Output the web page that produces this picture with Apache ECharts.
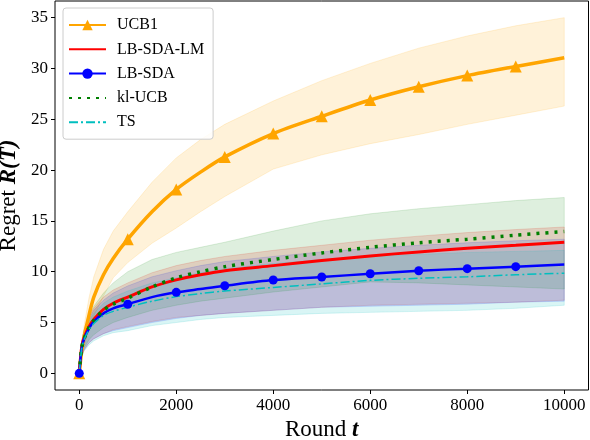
<!DOCTYPE html>
<html>
<head>
<meta charset="utf-8">
<script src="https://cdn.jsdelivr.net/npm/echarts@6/dist/echarts.min.js"></script>
<style>
    html, body {margin: 0; padding: 0; background: #fff;}
    #result_display {width: 590px; height: 440px;}
</style>
</head>
<body>
<div id="result_display"></div>
<script>
// ///////////////////////////////////////////
// data
var T = [0, 50, 100, 200, 300, 500, 700, 1000, 1500, 2000, 2500, 3000, 4000, 5000, 6000, 7000, 8000, 9000, 10000];

var ucb = [0, 2.2, 3.6, 5.7, 7.5, 9.7, 11.3, 13.2, 15.9, 18.1, 19.8, 21.3, 23.6, 25.3, 26.9, 28.2, 29.3, 30.2, 31.05];
var ucbHi = [0, 3.0, 4.7, 7.4, 9.5, 12.2, 14.0, 15.9, 18.8, 21.2, 23.0, 24.5, 26.8, 28.8, 30.5, 32.0, 33.2, 34.2, 35.0];
var ucbLo = [0, 1.6, 2.7, 4.3, 5.6, 7.6, 9.4, 10.9, 12.8, 14.3, 15.9, 17.4, 20.1, 21.5, 22.6, 23.5, 24.5, 25.4, 26.3];

var sdaLm = [0, 2.6, 3.5, 4.6, 5.3, 6.3, 6.9, 7.5, 8.5, 9.2, 9.7, 10.1, 10.6, 11.1, 11.55, 11.95, 12.3, 12.6, 12.9];
var sdaLmHi = [0, 3.2, 4.3, 5.6, 6.4, 7.5, 8.2, 8.9, 9.9, 10.6, 11.1, 11.5, 12.1, 12.6, 13.1, 13.5, 13.85, 14.15, 14.4];
var sdaLmLo = [0, 1.7, 2.3, 3.0, 3.4, 3.9, 4.3, 4.6, 5.1, 5.5, 5.7, 5.9, 6.2, 6.5, 6.7, 6.8, 6.9, 7.0, 7.2];

var sda = [0, 2.5, 3.4, 4.4, 5.1, 5.9, 6.4, 6.8, 7.5, 7.97, 8.3, 8.62, 9.18, 9.48, 9.8, 10.1, 10.3, 10.5, 10.7];
var sdaHi = [0, 3.1, 4.2, 5.4, 6.2, 7.2, 7.9, 8.6, 9.5, 10.1, 10.6, 11.0, 11.5, 11.95, 12.3, 12.6, 12.85, 13.05, 13.2];
var sdaLo = [0, 1.7, 2.3, 3.0, 3.4, 3.9, 4.2, 4.5, 5.0, 5.4, 5.7, 5.9, 6.2, 6.5, 6.6, 6.7, 6.8, 7.0, 7.1];

var klUcb = [0, 2.5, 3.4, 4.5, 5.2, 6.2, 6.8, 7.4, 8.5, 9.4, 10.0, 10.5, 11.2, 11.85, 12.4, 12.85, 13.2, 13.6, 13.95];
var klUcbHi = [0, 3.0, 4.2, 5.6, 6.6, 7.9, 8.9, 10.0, 11.2, 11.9, 12.4, 12.9, 14.0, 15.0, 15.7, 16.2, 16.6, 17.0, 17.3];
var klUcbLo = [0, 1.8, 2.5, 3.3, 3.8, 4.5, 5.0, 5.5, 6.2, 6.7, 7.1, 7.4, 8.0, 8.5, 9.0, 8.9, 8.7, 8.5, 8.3];

var ts = [0, 2.4, 3.3, 4.3, 4.9, 5.7, 6.1, 6.5, 7.1, 7.55, 7.85, 8.1, 8.45, 8.8, 9.15, 9.35, 9.5, 9.7, 9.85];
var tsHi = [0, 2.9, 4.0, 5.2, 5.9, 6.9, 7.5, 8.1, 8.9, 9.4, 9.9, 10.3, 10.8, 11.2, 11.5, 11.7, 11.9, 12.0, 12.1];
var tsLo = [0, 1.6, 2.2, 2.8, 3.2, 3.7, 4.0, 4.2, 4.7, 5.0, 5.3, 5.5, 5.7, 5.9, 6.0, 6.1, 6.2, 6.4, 6.7];

var xTicks = [0, 2000, 4000, 6000, 8000, 10000];
var yTicks = [0, 5, 10, 15, 20, 25, 30, 35];

var FONT = '"Liberation Serif", "DejaVu Serif", serif';

// ///////////////////////////////////////////
// helpers
var pairs = function (ys) {
    return T.map(function (t, i) {
        return [t, ys[i]];
    });
};

// markers every 1000 rounds, none on the last point
var markEvery = function (size) {
    return function (val) {
        return (val[0] % 1000 === 0 && val[0] < 10000) ? size : 0;
    };
};

// shaded band between lo and hi, one polygon drawn through the axes
var band = function (name, lo, hi, color) {
    return {
        name: name,
        type: 'custom',
        silent: true,
        z: 1,
        data: T.map(function (t, i) {
            return [t, lo[i], hi[i]];
        }),
        renderItem: function (params, api) {
            if (params.dataIndex !== 0) {
                return null;
            }
            var pts = [];
            for (var i = 0; i < T.length; i++) {
                pts.push(api.coord([T[i], hi[i]]));
            }
            for (var j = T.length - 1; j >= 0; j--) {
                pts.push(api.coord([T[j], lo[j]]));
            }
            return {
                type: 'polygon',
                shape: {points: pts},
                style: {fill: color, stroke: color, lineWidth: 1}
            };
        }
    };
};

var line = function (name, ys, color, width, dash, symbol, size) {
    return {
        name: name,
        type: 'line',
        z: 3,
        data: pairs(ys),
        smooth: 0.3,
        symbol: symbol || 'none',
        symbolSize: symbol ? markEvery(size) : 0,
        showAllSymbol: true,
        color: color,
        itemStyle: {color: color},
        lineStyle: {color: color, width: width, type: dash || 'solid'}
    };
};

var plain = function (v) {
    return String(v);
};

// ///////////////////////////////////////////
// echarts
var chart = echarts.init(document.getElementById('result_display'));

chart.setOption({
    animation: false,
    backgroundColor: '#fff',
    grid: {
        left: 55, right: 1.5, top: 1, bottom: 50,
        outerBoundsMode: 'none',
        containLabel: false,
        show: true, borderColor: '#000', borderWidth: 1
    },
    legend: {
        orient: 'vertical',
        left: 63, top: 8,
        data: [
            {name: 'UCB1'},
            {name: 'LB-SDA-LM', itemStyle: {opacity: 0}},
            {name: 'LB-SDA'},
            {name: 'kl-UCB', itemStyle: {opacity: 0}},
            {name: 'TS', itemStyle: {opacity: 0}}
        ],
        itemWidth: 37, itemHeight: 13, itemGap: 8.3,
        padding: [9, 9, 9, 5],
        backgroundColor: 'rgba(255,255,255,0.85)',
        borderColor: '#cccccc', borderWidth: 1, borderRadius: 3,
        textStyle: {fontFamily: FONT, fontSize: 16, color: '#000', padding: [0, 0, 0, 6]}
    },
    xAxis: {
        type: 'value',
        min: -500, max: 10500,
        name: '{a|Round }{b|t}',
        nameLocation: 'middle',
        nameGap: 28,
        nameTextStyle: {
            rich: {
                a: {fontFamily: FONT, fontSize: 23, color: '#000'},
                b: {fontFamily: FONT, fontSize: 23, color: '#000', fontWeight: 'bold', fontStyle: 'italic'}
            }
        },
        axisLine: {show: false, onZero: false},
        axisTick: {show: true, length: 4, lineStyle: {color: '#000'}, customValues: xTicks},
        axisLabel: {fontFamily: FONT, fontSize: 17, color: '#000', margin: 7, customValues: xTicks, formatter: plain},
        splitLine: {show: false}
    },
    yAxis: {
        type: 'value',
        min: -1.64, max: 36.64,
        name: '{a|Regret }{b|R(T)}',
        nameLocation: 'middle',
        nameGap: 33,
        nameTextStyle: {
            rich: {
                a: {fontFamily: FONT, fontSize: 23, color: '#000'},
                b: {fontFamily: FONT, fontSize: 23, color: '#000', fontWeight: 'bold', fontStyle: 'italic'}
            }
        },
        axisLine: {show: false, onZero: false},
        axisTick: {show: true, length: 4, lineStyle: {color: '#000'}, customValues: yTicks},
        axisLabel: {fontFamily: FONT, fontSize: 17, color: '#000', margin: 7, customValues: yTicks, formatter: plain},
        splitLine: {show: false}
    },
    series: [
        band('ucbBand', ucbLo, ucbHi, 'rgba(255,165,0,0.15)'),
        band('sdaLmBand', sdaLmLo, sdaLmHi, 'rgba(255,0,0,0.14)'),
        band('sdaBand', sdaLo, sdaHi, 'rgba(0,0,255,0.13)'),
        band('klUcbBand', klUcbLo, klUcbHi, 'rgba(0,128,0,0.13)'),
        band('tsBand', tsLo, tsHi, 'rgba(0,191,191,0.15)'),
        line('UCB1', ucb, '#FFA500', 3.5, 'solid', 'triangle', 12),
        line('LB-SDA-LM', sdaLm, '#FF0000', 3),
        line('LB-SDA', sda, '#0000FF', 2.5, 'solid', 'circle', 9),
        line('kl-UCB', klUcb, '#008000', 3.5, [3, 6]),
        line('TS', ts, '#00BFBF', 1.5, [9, 3, 2, 3])
    ]
});
</script>
</body>
</html>
